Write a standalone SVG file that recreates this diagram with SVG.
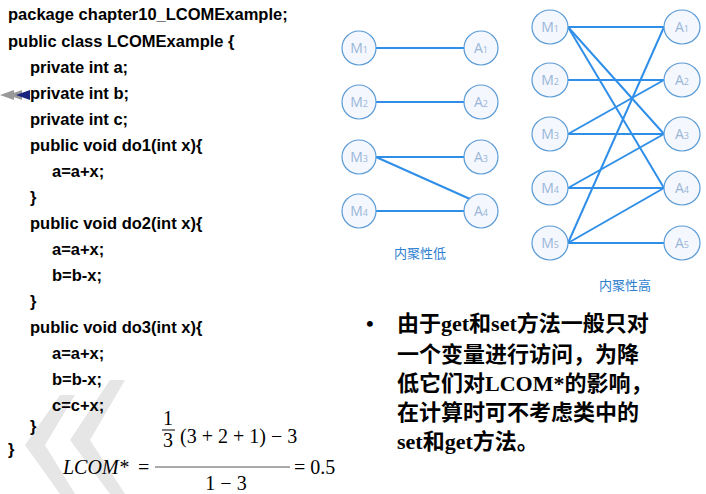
<svg xmlns="http://www.w3.org/2000/svg" width="706" height="494" viewBox="0 0 706 494">
<style>
.code{font-family:"Liberation Sans",Arial,sans-serif;font-weight:bold;font-size:16.5px;fill:#000}
.n ellipse{fill:#f4f7fd;stroke:#5b9bd5;stroke-width:1.2}
.n text{font-family:"Open Sans","Liberation Sans",sans-serif;font-size:14px;fill:#9ab6d8;text-anchor:middle}
.n tspan{font-size:9px}
.e line{stroke:#2f8fe8;stroke-width:2}
.lab{font-family:"Noto Sans CJK SC",sans-serif;font-size:13px;fill:#2f7fd0;text-anchor:middle}
.cn{font-family:"Liberation Serif","Noto Sans CJK SC",serif;font-weight:bold;font-size:22px;fill:#000}
.m{font-family:"Liberation Serif","Times New Roman",serif;font-size:20px;fill:#000}
</style>
<rect width="706" height="494" fill="#fff"/>
<g id="deco" fill="#e6e6e6">
<polygon points="60,395 25,445 60,494 75,494 45,445 75,395"/>
<polygon points="110,380 70,440 110,494 125,494 90,440 125,380"/>
<polygon points="0,95 14,90 14,100" fill="#999"/>
<polygon points="8,95 22,90 22,100" fill="#999"/>
<polygon points="16,95 30,90 30,100" fill="#1a237e"/>
</g>
<g id="code" class="code">
<text x="8" y="20">package chapter10_LCOMExample;</text>
<text x="8" y="47">public class LCOMExample {</text>
<text x="30" y="73">private int a;</text>
<text x="30" y="99">private int b;</text>
<text x="30" y="125">private int c;</text>
<text x="30" y="151">public void do1(int x){</text>
<text x="52" y="177">a=a+x;</text>
<text x="30" y="203">}</text>
<text x="30" y="229">public void do2(int x){</text>
<text x="52" y="255">a=a+x;</text>
<text x="52" y="281">b=b-x;</text>
<text x="30" y="307">}</text>
<text x="30" y="333">public void do3(int x){</text>
<text x="52" y="359">a=a+x;</text>
<text x="52" y="385">b=b-x;</text>
<text x="52" y="411">c=c+x;</text>
<text x="30" y="432">}</text>
<text x="8" y="455">}</text>
</g>
<g id="connectors" class="e">
<line x1="376" y1="48" x2="464" y2="48"/>
<line x1="376" y1="102" x2="464" y2="102"/>
<line x1="376" y1="157" x2="464" y2="157"/>
<line x1="376" y1="157" x2="470" y2="199"/>
<line x1="376" y1="211" x2="464" y2="211"/>
<line x1="568" y1="27" x2="664" y2="27"/>
<line x1="568" y1="27" x2="664" y2="134"/>
<line x1="568" y1="27" x2="664" y2="188"/>
<line x1="568" y1="80" x2="664" y2="80"/>
<line x1="568" y1="134" x2="664" y2="80"/>
<line x1="568" y1="134" x2="664" y2="134"/>
<line x1="568" y1="188" x2="664" y2="134"/>
<line x1="568" y1="188" x2="664" y2="188"/>
<line x1="568" y1="243" x2="664" y2="27"/>
<line x1="568" y1="243" x2="664" y2="188"/>
<line x1="568" y1="243" x2="664" y2="243"/>
</g>
<g id="L_M1" class="n"><ellipse cx="359" cy="48" rx="17" ry="17"/><text x="359" y="53">M<tspan>1</tspan></text></g>
<g id="L_M2" class="n"><ellipse cx="359" cy="102" rx="17" ry="17"/><text x="359" y="107">M<tspan>2</tspan></text></g>
<g id="L_M3" class="n"><ellipse cx="359" cy="157" rx="17" ry="17"/><text x="359" y="162">M<tspan>3</tspan></text></g>
<g id="L_M4" class="n"><ellipse cx="359" cy="211" rx="17" ry="17"/><text x="359" y="216">M<tspan>4</tspan></text></g>
<g id="L_A1" class="n"><ellipse cx="481" cy="48" rx="17" ry="17"/><text x="481" y="53">A<tspan>1</tspan></text></g>
<g id="L_A2" class="n"><ellipse cx="481" cy="102" rx="17" ry="17"/><text x="481" y="107">A<tspan>2</tspan></text></g>
<g id="L_A3" class="n"><ellipse cx="481" cy="157" rx="17" ry="17"/><text x="481" y="162">A<tspan>3</tspan></text></g>
<g id="L_A4" class="n"><ellipse cx="481" cy="211" rx="17" ry="17"/><text x="481" y="216">A<tspan>4</tspan></text></g>
<g id="R_M1" class="n"><ellipse cx="550" cy="27" rx="18" ry="17"/><text x="550" y="32">M<tspan>1</tspan></text></g>
<g id="R_M2" class="n"><ellipse cx="550" cy="80" rx="18" ry="17"/><text x="550" y="85">M<tspan>2</tspan></text></g>
<g id="R_M3" class="n"><ellipse cx="550" cy="134" rx="18" ry="17"/><text x="550" y="139">M<tspan>3</tspan></text></g>
<g id="R_M4" class="n"><ellipse cx="550" cy="188" rx="18" ry="17"/><text x="550" y="193">M<tspan>4</tspan></text></g>
<g id="R_M5" class="n"><ellipse cx="550" cy="243" rx="18" ry="17"/><text x="550" y="248">M<tspan>5</tspan></text></g>
<g id="R_A1" class="n"><ellipse cx="682" cy="27" rx="18" ry="17"/><text x="682" y="32">A<tspan>1</tspan></text></g>
<g id="R_A2" class="n"><ellipse cx="682" cy="80" rx="18" ry="17"/><text x="682" y="85">A<tspan>2</tspan></text></g>
<g id="R_A3" class="n"><ellipse cx="682" cy="134" rx="18" ry="17"/><text x="682" y="139">A<tspan>3</tspan></text></g>
<g id="R_A4" class="n"><ellipse cx="682" cy="188" rx="18" ry="17"/><text x="682" y="193">A<tspan>4</tspan></text></g>
<g id="R_A5" class="n"><ellipse cx="682" cy="243" rx="18" ry="17"/><text x="682" y="248">A<tspan>5</tspan></text></g>
<text class="lab" x="420" y="258">内聚性低</text>
<text class="lab" x="625" y="290">内聚性高</text>
<g id="bullet" class="cn">
<text x="366" y="331">•</text>
<text x="397" y="331">由于get和set方法一般只对</text>
<text x="397" y="362">一个变量进行访问，为降</text>
<text x="397" y="391">低它们对LCOM*的影响，</text>
<text x="397" y="420">在计算时可不考虑类中的</text>
<text x="397" y="449">set和get方法。</text>
</g>
<g id="formula" class="m">
<text x="63" y="474" font-style="italic">LCOM*</text>
<text x="138" y="474">=</text>
<text x="168" y="425" text-anchor="middle">1</text>
<line x1="162" y1="430" x2="175" y2="430" stroke="#000" stroke-width="1"/>
<text x="168" y="447" text-anchor="middle">3</text>
<text x="180" y="443">(3 + 2 + 1) − 3</text>
<line x1="155" y1="467" x2="290" y2="467" stroke="#555" stroke-width="1.2"/>
<text x="226" y="490" text-anchor="middle">1 − 3</text>
<text x="294" y="474">= 0.5</text>
</g>
</svg>
